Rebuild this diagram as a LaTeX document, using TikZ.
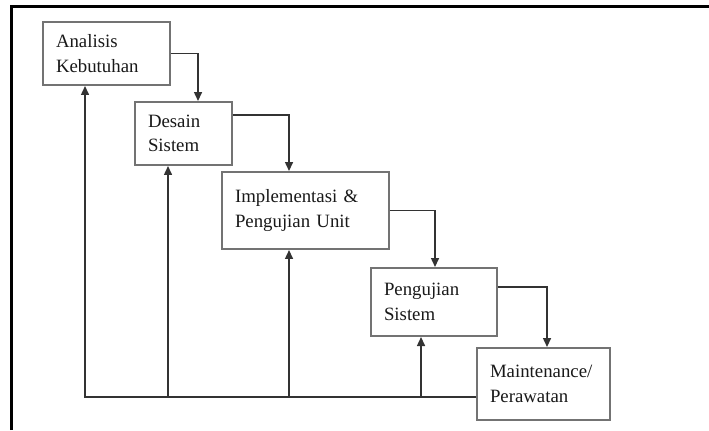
\documentclass[tikz,border=0pt]{standalone}
\usepackage{fontspec}
\setmainfont{Liberation Serif}
\usetikzlibrary{arrows.meta,calc}
\begin{document}
\begin{tikzpicture}
  [
    x=0.02cm,y=-0.02cm,
    inner ysep=0mm,inner xsep=0.26cm,
    phase/.style={rectangle,draw=black!55,line width=0.04cm,fill=white,align=left,
      text=black!90,font=\fontsize{10.7}{14}\selectfont},
    flow/.style={draw=black!80,line width=0.03cm,-{Triangle[length=0.18cm,width=0.16cm]}},
  ]
  \useasboundingbox (0,0) rectangle (709,430);
  \draw[line width=0.065cm] (11.5,430) -- (11.5,6.2) -- (709,6.2);
  \node (anl) at (106.5,53.5) [phase,minimum width=2.54cm,minimum height=1.26cm,text width=2.02cm] {Analisis\\Kebutuhan};
  \node (dsn) at (183.5,133.5) [phase,minimum width=1.94cm,minimum height=1.26cm,text width=1.42cm] {Desain\\Sistem};
  \node (imp) at (305.5,210.5) [phase,minimum width=3.34cm,minimum height=1.54cm,text width=2.82cm] {Implementasi \&\\Pengujian Unit};
  \node (uji) at (434,302) [phase,minimum width=2.52cm,minimum height=1.36cm,text width=2.0cm] {Pengujian\\Sistem};
  \node (mnt) at (543.5,384) [phase,minimum width=2.66cm,minimum height=1.44cm,text width=2.14cm] {Maintenance/\\Perawatan};
  % forward steps
  \draw[flow] (anl.east) -| ($(dsn.north west)+(64,0)$);
  \draw[flow] ($(dsn.north east)+(0,14)$) -| ($(imp.north west)+(68,0)$);
  \draw[flow] (imp.east) -| ($(uji.north west)+(65,0)$);
  \draw[flow] ($(uji.north east)+(0,20)$) -| ($(mnt.north west)+(71,0)$);
  % feedback
  \coordinate (fb) at ($(mnt.west)+(0,13)$);
  \coordinate (u2) at ($(dsn.south west)+(34,0)$);
  \coordinate (u3) at ($(imp.south west)+(68,0)$);
  \coordinate (u4) at ($(uji.south west)+(51,0)$);
  \draw[flow] (fb) -| ($(anl.south west)+(43,0)$);
  \draw[flow] (u2 |- fb) -- (u2);
  \draw[flow] (u3 |- fb) -- (u3);
  \draw[flow] (u4 |- fb) -- (u4);
\end{tikzpicture}
\end{document}
